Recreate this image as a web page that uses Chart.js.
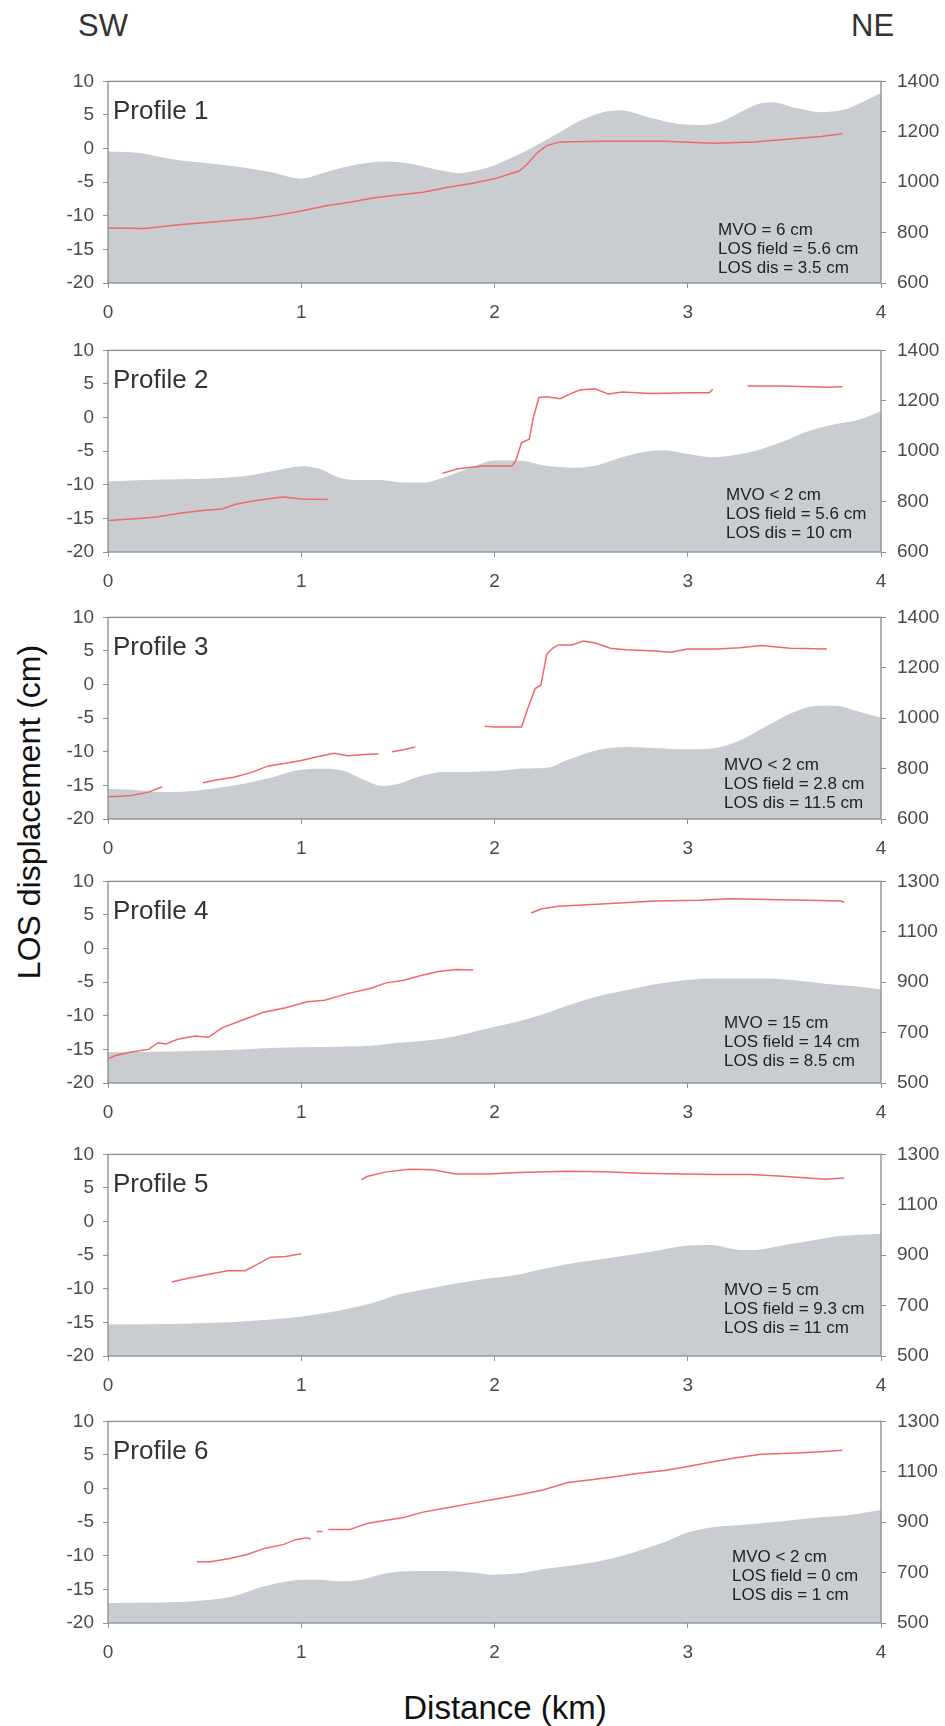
<!DOCTYPE html>
<html>
<head>
<meta charset="utf-8">
<script src="https://cdn.jsdelivr.net/npm/chart.js@4.4.0/dist/chart.umd.min.js"></script>
<style>
  html, body { margin: 0; padding: 0; background: #fff; }
  #wrap { position: relative; width: 945px; height: 1726px; overflow: hidden;
          font-family: "Liberation Sans", Arial, sans-serif; }
  .panel { position: absolute; left: 0; }
  .lbl { position: absolute; white-space: nowrap; line-height: 1; }
</style>
</head>
<body>
<div id="wrap">
  <div class="lbl" style="left:78px;top:25px;font-size:31px;color:#333;transform:translateY(-50%)">SW</div>
  <div class="lbl" style="left:851px;top:25px;font-size:31px;color:#333;transform:translateY(-50%)">NE</div>
  <div class="lbl" style="left:29px;top:812px;font-size:32px;color:#111;transform-origin:0 0;transform:rotate(-90deg) translate(-50%,-50%)">LOS displacement (cm)</div>
  <div class="lbl" style="left:505px;top:1707px;font-size:33px;color:#111;transform:translate(-50%,-50%)">Distance (km)</div>
</div>
<script>
// ---- data (distance km, value) ----
const profileNames = ['Profile 1','Profile 2','Profile 3','Profile 4','Profile 5','Profile 6'];
const distTicks = [0, 1, 2, 3, 4];
const losTicks = [-20, -15, -10, -5, 0, 5, 10];
const elevTicksHigh = [600, 800, 1000, 1200, 1400];
const elevTicksLow = [500, 700, 900, 1100, 1300];

const notes1 = ['MVO = 6 cm', 'LOS field = 5.6 cm', 'LOS dis = 3.5 cm'];
const notes2 = ['MVO < 2 cm', 'LOS field = 5.6 cm', 'LOS dis = 10 cm'];
const notes3 = ['MVO < 2 cm', 'LOS field = 2.8 cm', 'LOS dis = 11.5 cm'];
const notes4 = ['MVO = 15 cm', 'LOS field = 14 cm', 'LOS dis = 8.5 cm'];
const notes5 = ['MVO = 5 cm', 'LOS field = 9.3 cm', 'LOS dis = 11 cm'];
const notes6 = ['MVO < 2 cm', 'LOS field = 0 cm', 'LOS dis = 1 cm'];

// elevation (m, right axis)
const p1Elev = [[0,1122],[0.16,1116],[0.34,1090],[0.53,1074],[0.69,1059],[0.84,1040],[1.0,1014],[1.13,1040],[1.28,1069],[1.44,1082],[1.56,1074],[1.69,1052],[1.81,1036],[1.94,1052],[2.06,1087],[2.19,1135],[2.31,1186],[2.44,1243],[2.56,1278],[2.66,1285],[2.78,1262],[2.91,1237],[3.03,1227],[3.16,1237],[3.25,1269],[3.38,1313],[3.44,1316],[3.56,1294],[3.69,1278],[3.81,1288],[3.91,1320],[4.0,1354]];
const p2Elev = [[0,880],[0.19,886],[0.38,889],[0.56,893],[0.75,906],[0.88,925],[1.0,940],[1.09,931],[1.19,897],[1.28,886],[1.41,886],[1.53,876],[1.63,876],[1.75,899],[1.88,935],[2.0,963],[2.13,963],[2.25,944],[2.41,934],[2.53,944],[2.66,976],[2.78,998],[2.88,1004],[3.0,989],[3.13,976],[3.25,986],[3.38,1008],[3.5,1040],[3.63,1081],[3.75,1105],[3.88,1124],[4.0,1159]];
const p3Elev = [[0,719],[0.12,716],[0.27,707],[0.42,710],[0.56,723],[0.71,741],[0.86,768],[0.98,793],[1.12,799],[1.21,793],[1.3,764],[1.42,732],[1.5,739],[1.62,771],[1.74,787],[1.86,787],[2.0,790],[2.15,800],[2.27,803],[2.38,835],[2.53,873],[2.68,886],[2.83,882],[2.97,877],[3.12,880],[3.27,912],[3.41,970],[3.56,1028],[3.68,1049],[3.77,1049],[3.85,1034],[4.0,1002]];
const p4Elev = [[0,622],[0.33,625],[0.62,631],[0.92,641],[1.21,644],[1.36,648],[1.5,660],[1.65,669],[1.8,686],[1.94,712],[2.09,738],[2.24,770],[2.38,808],[2.53,843],[2.68,868],[2.83,892],[2.97,907],[3.12,915],[3.27,915],[3.41,915],[3.56,907],[3.71,894],[3.85,885],[4.0,872]];
const p5Elev = [[0,625],[0.33,627],[0.62,634],[0.92,650],[1.06,663],[1.21,683],[1.36,708],[1.5,743],[1.65,766],[1.8,788],[1.94,805],[2.09,818],[2.24,843],[2.38,865],[2.53,882],[2.68,899],[2.83,917],[2.97,936],[3.12,940],[3.27,921],[3.35,921],[3.5,940],[3.65,959],[3.79,976],[4.0,985]];
const p6Elev = [[0,579],[0.31,582],[0.53,592],[0.66,608],[0.78,640],[0.91,663],[1.0,672],[1.09,672],[1.19,666],[1.31,672],[1.44,697],[1.59,706],[1.75,706],[1.88,700],[2.0,691],[2.13,697],[2.25,713],[2.41,729],[2.56,748],[2.72,780],[2.88,821],[3.0,859],[3.13,880],[3.31,891],[3.5,905],[3.69,920],[3.84,929],[4.0,948]];

// LOS displacement (cm, left axis); null = gap in the profile
const p1Los = [[0,-11.8],[0.19,-11.9],[0.38,-11.3],[0.56,-10.9],[0.75,-10.4],[0.88,-9.9],[1.0,-9.3],[1.13,-8.5],[1.25,-8.0],[1.38,-7.3],[1.5,-6.9],[1.63,-6.5],[1.75,-5.8],[1.88,-5.2],[2.0,-4.5],[2.13,-3.3],[2.17,-2.3],[2.22,-0.65],[2.27,0.44],[2.34,1.0],[2.56,1.1],[2.88,1.1],[3.13,0.78],[3.34,1.0],[3.56,1.5],[3.69,1.8],[3.8,2.2]];
const p2Los = [[0,-15.3],[0.16,-15.0],[0.25,-14.8],[0.38,-14.2],[0.5,-13.8],[0.59,-13.6],[0.66,-12.9],[0.75,-12.4],[0.88,-11.9],[0.91,-11.8],[1.0,-12.1],[1.14,-12.2], null,
  [1.73,-8.3],[1.81,-7.6],[1.94,-7.2],[2.09,-7.2],[2.11,-6.4],[2.14,-3.7],[2.18,-3.2],[2.2,-0.1],[2.23,3.0],[2.27,3.1],[2.34,2.8],[2.39,3.5],[2.44,4.1],[2.52,4.3],[2.59,3.5],[2.66,3.8],[2.81,3.6],[3.0,3.7],[3.11,3.7],[3.13,4.2], null,
  [3.31,4.7],[3.47,4.7],[3.63,4.6],[3.72,4.5],[3.8,4.6]];
const p3Los = [[0,-16.7],[0.07,-16.6],[0.12,-16.5],[0.21,-16.0],[0.28,-15.2], null,
  [0.49,-14.6],[0.56,-14.2],[0.65,-13.8],[0.74,-13.1],[0.83,-12.1],[0.92,-11.7],[1.0,-11.3],[1.09,-10.7],[1.17,-10.2],[1.24,-10.6],[1.33,-10.4],[1.4,-10.3], null,
  [1.47,-10.0],[1.53,-9.7],[1.59,-9.3], null,
  [1.95,-6.2],[2.0,-6.3],[2.14,-6.3],[2.17,-3.7],[2.21,-0.6],[2.24,-0.1],[2.27,4.5],[2.3,5.4],[2.33,5.9],[2.4,5.9],[2.46,6.5],[2.52,6.2],[2.6,5.4],[2.68,5.2],[2.83,5.0],[2.91,4.8],[3.0,5.3],[3.15,5.3],[3.27,5.5],[3.38,5.8],[3.53,5.4],[3.72,5.3]];
const p4Los = [[0,-16.4],[0.04,-15.9],[0.12,-15.4],[0.21,-15.0],[0.26,-14.0],[0.3,-14.2],[0.36,-13.5],[0.45,-13.0],[0.52,-13.2],[0.59,-11.8],[0.68,-10.8],[0.8,-9.5],[0.92,-8.8],[1.03,-7.9],[1.12,-7.7],[1.24,-6.7],[1.36,-5.9],[1.44,-5.1],[1.53,-4.7],[1.62,-4.0],[1.71,-3.4],[1.8,-3.1],[1.89,-3.2], null,
  [2.19,5.3],[2.24,5.9],[2.33,6.3],[2.53,6.6],[2.83,7.1],[3.06,7.2],[3.22,7.4],[3.41,7.3],[3.62,7.2],[3.79,7.1],[3.81,6.9]];
const p5Los = [[0.33,-9.0],[0.42,-8.4],[0.53,-7.8],[0.62,-7.3],[0.71,-7.3],[0.77,-6.4],[0.84,-5.3],[0.92,-5.2],[1.0,-4.8], null,
  [1.31,6.2],[1.34,6.7],[1.44,7.4],[1.56,7.8],[1.68,7.7],[1.8,7.1],[1.97,7.1],[2.12,7.3],[2.38,7.5],[2.56,7.4],[2.77,7.2],[2.97,7.1],[3.15,7.0],[3.32,7.0],[3.47,6.8],[3.62,6.5],[3.71,6.3],[3.81,6.5]];
const p6Los = [[0.46,-10.9],[0.53,-10.9],[0.63,-10.4],[0.72,-9.8],[0.81,-8.9],[0.91,-8.3],[0.97,-7.6],[1.03,-7.3],[1.05,-7.5], null,
  [1.08,-6.4],[1.11,-6.4], null,
  [1.14,-6.1],[1.25,-6.1],[1.34,-5.2],[1.44,-4.7],[1.53,-4.3],[1.63,-3.5],[1.75,-2.9],[1.88,-2.2],[2.0,-1.6],[2.13,-0.9],[2.25,-0.2],[2.38,0.9],[2.5,1.3],[2.63,1.8],[2.75,2.3],[2.88,2.7],[3.0,3.3],[3.13,4.0],[3.25,4.6],[3.38,5.1],[3.56,5.3],[3.69,5.5],[3.8,5.7]];

const elevSets = [p1Elev, p2Elev, p3Elev, p4Elev, p5Elev, p6Elev];
const losSets = [p1Los, p2Los, p3Los, p4Los, p5Los, p6Los];
const noteSets = [notes1, notes2, notes3, notes4, notes5, notes6];
const elevTickSets = [elevTicksHigh, elevTicksHigh, elevTicksHigh, elevTicksLow, elevTicksLow, elevTicksLow];

// ---- layout ----
const panelTops = [74, 343, 610, 874, 1147, 1414];
const noteX = [718, 726, 724, 724, 724, 732];
const noteY = [-53, -57, -54, -60, -66, -66]; // first note line, from plot bottom
const PAD_TOP = 15, PLOT_H = 209, X_AXIS_H = 45;
const FONT = '"Liberation Sans", Arial, sans-serif';
const axisColor = '#8a949c';
const tickColor = '#4a4a4a';

function toPoints(arr){
  // null entries break the line
  return arr.map(p => p ? {x: p[0], y: p[1]} : {x: null, y: null});
}

const framePlugin = {
  id: 'frame',
  afterDraw(chart){
    const {ctx, chartArea: a} = chart;
    ctx.save();
    ctx.strokeStyle = axisColor;
    ctx.lineWidth = 1.4;
    ctx.strokeRect(a.left, a.top, a.right - a.left, a.bottom - a.top);
    ctx.restore();
  }
};

const textPlugin = {
  id: 'panelText',
  afterDraw(chart, args, opts){
    const {ctx, chartArea: a} = chart;
    ctx.save();
    ctx.fillStyle = '#333';
    ctx.font = '26px ' + FONT;
    ctx.textBaseline = 'middle';
    ctx.textAlign = 'left';
    ctx.fillText(opts.title, a.left + 5, a.top + 30);
    ctx.fillStyle = '#222';
    ctx.font = '17px ' + FONT;
    opts.notes.forEach((t, k) => ctx.fillText(t, opts.nx, a.bottom + opts.ny + k * 19));
    ctx.restore();
  }
};

function setTicks(list){
  return scale => { scale.ticks = list.map(v => ({value: v})); };
}
const plain = v => String(v);

const wrap = document.getElementById('wrap');
profileNames.forEach((name, i) => {
  const canvas = document.createElement('canvas');
  const h = PAD_TOP + PLOT_H + X_AXIS_H;
  canvas.width = 945; canvas.height = h;
  canvas.className = 'panel';
  canvas.style.top = (panelTops[i] - PAD_TOP) + 'px';
  canvas.style.width = '945px'; canvas.style.height = h + 'px';
  wrap.appendChild(canvas);

  const eTicks = elevTickSets[i];
  const tickFont = {family: FONT, size: 19};

  new Chart(canvas, {
    type: 'line',
    data: {
      datasets: [
        { label: 'LOS', data: toPoints(losSets[i]), yAxisID: 'y', borderColor: '#f06868',
          borderWidth: 1.5, pointRadius: 0, fill: false, spanGaps: false, tension: 0, order: 0 },
        { label: 'Elevation', data: toPoints(elevSets[i]), yAxisID: 'y2', borderWidth: 0,
          borderColor: 'rgba(0,0,0,0)', backgroundColor: '#c9ccd1', pointRadius: 0,
          fill: 'start', cubicInterpolationMode: 'monotone', order: 1 }
      ]
    },
    options: {
      responsive: false, animation: false,
      layout: { padding: { top: PAD_TOP, left: 0, right: 0, bottom: 0 } },
      plugins: {
        legend: { display: false }, tooltip: { enabled: false },
        panelText: { title: name, notes: noteSets[i], nx: noteX[i], ny: noteY[i] }
      },
      scales: {
        x: {
          type: 'linear', min: 0, max: 4,
          afterBuildTicks: setTicks(distTicks),
          afterFit: s => { s.height = X_AXIS_H; },
          grid: { drawOnChartArea: false, drawTicks: true, tickLength: 5, color: axisColor },
          border: { display: false },
          ticks: { font: tickFont, color: tickColor, padding: 13, autoSkip: false, maxRotation: 0, callback: plain }
        },
        y: {
          position: 'left', min: -20, max: 10,
          afterBuildTicks: setTicks(losTicks),
          afterFit: s => { s.width = 108; },
          grid: { drawOnChartArea: false, drawTicks: true, tickLength: 5, color: axisColor },
          border: { display: false },
          ticks: { font: tickFont, color: tickColor, padding: 9, callback: plain }
        },
        y2: {
          position: 'right', min: eTicks[0], max: eTicks[eTicks.length - 1],
          afterBuildTicks: setTicks(eTicks),
          afterFit: s => { s.width = 64; },
          grid: { drawOnChartArea: false, drawTicks: true, tickLength: 5, color: axisColor },
          border: { display: false },
          ticks: { font: tickFont, color: tickColor, padding: 11, callback: plain }
        }
      }
    },
    plugins: [framePlugin, textPlugin]
  });
});
</script>
</body>
</html>
